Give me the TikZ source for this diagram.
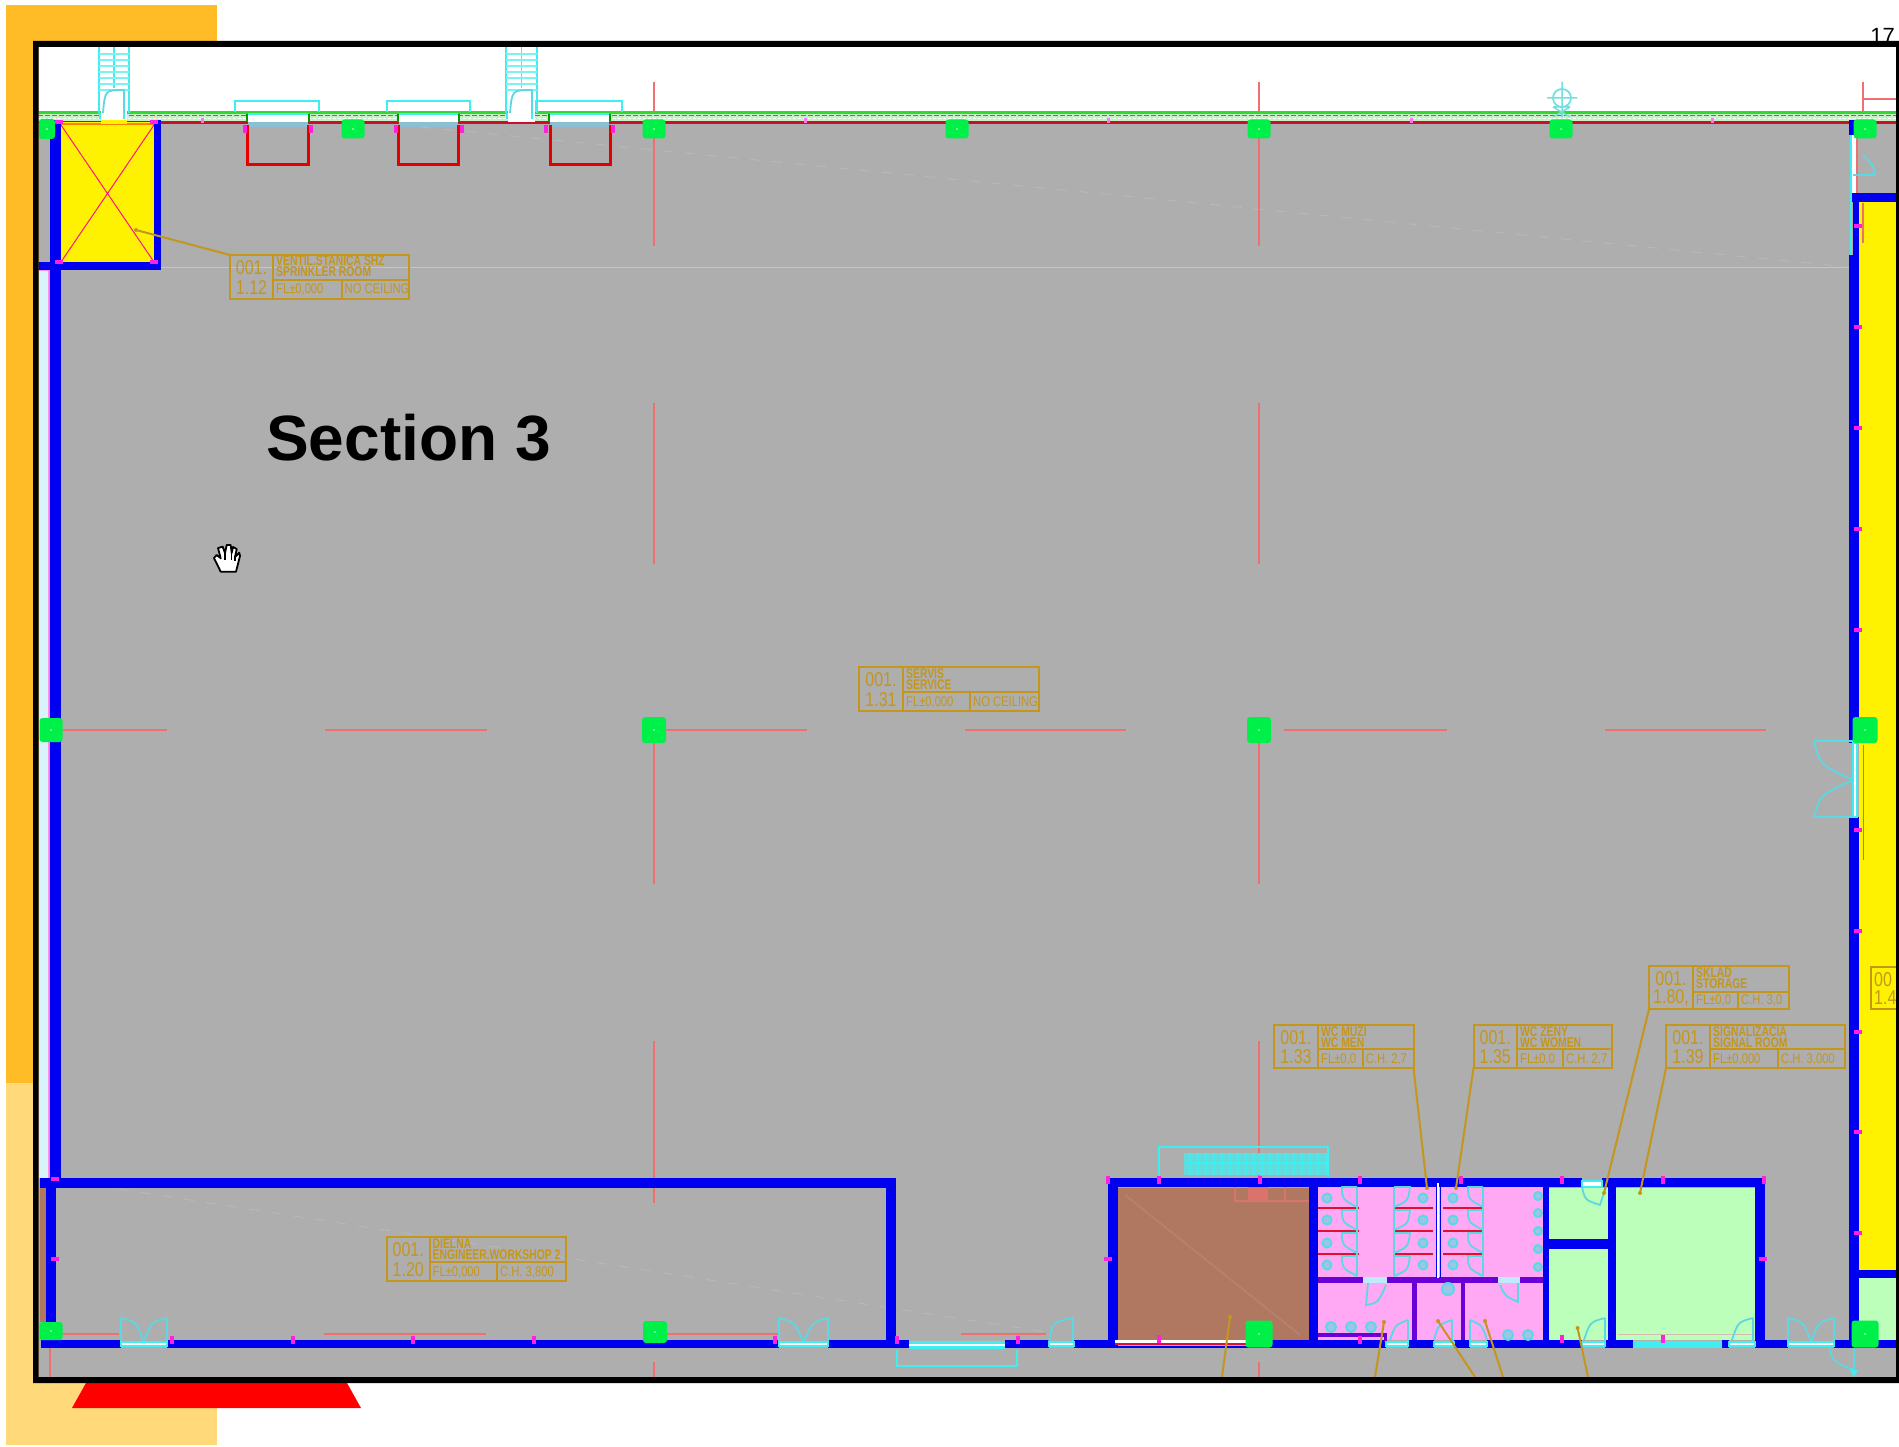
\documentclass[tikz,border=0pt]{standalone}
\usepackage{graphicx}
\usepackage{fontspec}
\setmainfont{Liberation Sans}
\definecolor{gold}{HTML}{C4961C}
\definecolor{wallblue}{HTML}{0000F0}
\definecolor{floor}{HTML}{AEAEAE}
\definecolor{orangeA}{HTML}{FFBC27}
\definecolor{orangeB}{HTML}{FFD97A}
\definecolor{colgreen}{HTML}{00F04A}
\definecolor{roompink}{HTML}{FFA8F4}
\definecolor{roomgreen}{HTML}{BBFFBB}
\definecolor{roombrown}{HTML}{B07860}
\definecolor{cy}{HTML}{40EEF0}
\definecolor{doorcy}{HTML}{5CD8E4}
\definecolor{axis}{HTML}{F07070}
\definecolor{mag}{HTML}{FF20E0}
\definecolor{purplewall}{HTML}{6A00D8}
\definecolor{faint}{HTML}{B8B8B8}
\definecolor{stallred}{HTML}{E01030}
\newcommand{\sq}[1]{\scalebox{.8}[1]{#1}}
\newcommand{\sqb}[1]{\scalebox{.74}[1]{\bfseries #1}}
\newcommand{\rlbox}[7]{\def\xa{#1}\def\xb{#2}\def\xc{#3}\def\xd{#4}\def\ya{#5}\def\yb{#6}\def\yc{#7}%
  \draw[labelline] (\xa,\ya) rectangle (\xd,\yc) (\xb,\ya) -- (\xb,\yc) (\xb,\yb) -- (\xd,\yb) (\xc,\yb) -- (\xc,\yc);}
\newcommand{\rltext}[7]{%
  \node[labelnum] (#1a) at ({(\xa+\xb)/2},{\ya+(\yc-\ya)*0.29}) {\scalebox{.8}[1]{#2}};
  \node[labelnum] (#1b) at ({(\xa+\xb)/2},{\ya+(\yc-\ya)*0.73}) {\scalebox{.8}[1]{#3}};
  \node[labeltext] (#1c) at ({\xb+3},{\ya+11}) {\sqb{#4}};
  \node[labeltext] (#1d) at ({\xb+3},{\ya+22}) {\sqb{#5}};
  \node[labeltext] (#1e) at ({\xb+3},{\yc-5}) {\sq{#6}};
  \node[labeltext] (#1f) at ({\xc+3},{\yc-5}) {\sq{#7}};}
\tikzset{
  labelline/.style={draw=gold,line width=2pt},
  labelnum/.style={text=gold,inner sep=0pt,font=\fontsize{20}{20}\selectfont},
  labeltext/.style={text=gold,inner sep=0pt,anchor=base west,font=\fontsize{14}{14}\selectfont},
  leader/.style={draw=gold,line width=2pt},
  leaderdot/.style={fill=gold},
  wall/.style={fill=wallblue},
  colnode/.style={fill=colgreen,rounded corners=3pt,inner sep=0pt},
  axisline/.style={draw=axis,line width=1.2pt},
  cyline/.style={draw=cy,line width=2pt},
  doorline/.style={draw=doorcy,line width=1.8pt},
  pane/.style={fill=white,draw=cy,line width=1.6pt},
  faintline/.style={draw=faint,line width=1pt,dash pattern=on 10pt off 12pt},
  stalldiv/.style={draw=stallred,line width=2.5pt},
  fixture/.style={draw=doorcy,line width=2pt,fill=roompink!40!doorcy},
}
\begin{document}
\begin{tikzpicture}[x=1pt,y=-1pt]
\useasboundingbox (0,0) rectangle (1899,1447);
\fill[white] (0,0) rectangle (1899,1447);
% side panel
\fill[orangeA] (6,5) rectangle (217,1083);
\fill[orangeB] (6,1083) rectangle (217,1445);
% red trapezoid
\fill[red] (86,1383) -- (347,1383) -- (361,1408) -- (72,1408) -- cycle;
% page number
\node[inner sep=0pt,anchor=base east,font=\fontsize{22}{22}\selectfont] (pagenum) at (1895,44) {17};

\begin{scope}
\clip (38.5,47) rectangle (1896,1377);
\fill[floor] (38,47) rectangle (1896,1377);
\fill[white] (38,47) rectangle (1896,113);
% faint guide lines
\draw[draw=faint!80!white,line width=1pt] (161,267.5) -- (1849,267.5);
\draw[faintline] (400,125) -- (1849,267);
\draw[faintline] (119,1189) -- (1053,1333);
% grid axes
\foreach \xx in {654,1259}{
  \foreach \ya/\yb in {82/112,121/246,403/564,723/884,1041/1203,1362/1377}
    \draw[axisline] (\xx,\ya) -- (\xx,\yb);
}
\draw[axisline] (1863,82) -- (1863,112);
\draw[axisline] (1863,99) -- (1896,99);
\foreach \xa/\xb in {63/167,325/487,644/807,965/1126,1284/1447,1605/1766}
  \draw[axisline] (\xa,730) -- (\xb,730);
\foreach \xa/\xb in {63/119,324/486,667/779,961/1046}
  \draw[axisline] (\xa,1334) -- (\xb,1334);
\draw[axisline] (50,1348) -- (50,1377);
% north wall strip
\fill[black!8!roomgreen!70!white] (38,113) rectangle (1896,122);
\draw[draw=green!80!black!80!white,line width=2.2pt] (38,112.5) -- (1896,112.5);
\draw[draw=red!50!gold,line width=0.8pt,dash pattern=on 5pt off 2pt] (38,115.5) -- (1896,115.5);
\draw[draw=white,line width=0.8pt,dash pattern=on 3pt off 2pt] (38,118.5) -- (1896,118.5);
\draw[draw=stallred!90!black,line width=2.6pt] (38,122.5) -- (1896,122.5);
% right bay
\fill[yellow] (1859,202) rectangle (1896,1270);
\fill[roomgreen] (1859,1278) rectangle (1896,1340);
% sprinkler room
\fill[yellow] (61,122) rectangle (154,262);
\draw[draw=orange,line width=2pt] (61,124) -- (154,124);
\draw[draw=mag!60!red,line width=1pt] (61,125) -- (154,262) (154,125) -- (61,262);
% rooms of the south block
\fill[roombrown] (1118,1188) rectangle (1309,1340);
\fill[axis!65!roombrown] (1248,1186) rectangle (1268,1200);
\draw[draw=axis!65!roombrown,line width=1.5pt] (1235,1186) -- (1235,1201) -- (1312,1201) (1285,1186) rectangle (1312,1201);
\draw[draw=roombrown!88!white,line width=1pt] (1125,1195) -- (1300,1335);
\fill[roompink] (1318,1186) rectangle (1543,1340);
\fill[roomgreen] (1549,1188) rectangle (1608,1340);
\fill[roomgreen] (1616,1188) rectangle (1755,1340);
\draw[draw=roombrown!50!white,line width=1pt] (1618,1334) -- (1755,1334);
\fill[roombrown] (40,1188) rectangle (47,1322);
% light window strip on the west wall
\fill[cyan!15!white] (39,271) rectangle (49,1178);
\draw[draw=mag!50!white,line width=1pt] (39,271) -- (49,271) (48.5,271) -- (48.5,1178) (39,1178) -- (49,1178);
% walls
\fill[wall] (50,120) rectangle (61,1178);
\fill[wall] (46,1178) rectangle (56,1325);
\fill[wall] (154,120) rectangle (161,270);
\fill[wall] (38,262) rectangle (161,270);
\fill[wall] (40,1178) rectangle (896,1188);
\fill[wall] (886,1178) rectangle (896,1348);
\fill[wall] (41,1340) rectangle (121,1348);
\fill[wall] (167,1340) rectangle (779,1348);
\fill[wall] (828,1340) rectangle (909,1348);
\fill[wall] (1005,1340) rectangle (1049,1348);
\fill[wall] (1074,1340) rectangle (1115,1348);
\fill[wall] (1250,1340) rectangle (1386,1348);
\fill[wall] (1408,1340) rectangle (1434,1348);
\fill[wall] (1454,1340) rectangle (1470,1348);
\fill[wall] (1487,1340) rectangle (1582,1348);
\fill[wall] (1605,1340) rectangle (1633,1348);
\fill[wall] (1722,1340) rectangle (1729,1348);
\fill[wall] (1755,1340) rectangle (1788,1348);
\fill[wall] (1834,1340) rectangle (1896,1348);
\fill[wall] (1108,1178) rectangle (1582,1187);
\fill[wall] (1602,1178) rectangle (1765,1187);
\fill[wall] (1108,1178) rectangle (1118,1348);
\fill[wall] (1309,1187) rectangle (1318,1348);
\fill[wall] (1543,1187) rectangle (1549,1348);
\fill[wall] (1549,1239) rectangle (1608,1249);
\fill[wall] (1608,1187) rectangle (1616,1348);
\fill[wall] (1755,1178) rectangle (1765,1348);
\fill[wall] (1849,120) rectangle (1857,135);
\fill[wall] (1852,193) rectangle (1896,202);
\fill[wall] (1853,193) rectangle (1859,255);
\fill[wall] (1849,255) rectangle (1859,743);
\fill[wall] (1849,817) rectangle (1859,1348);
\fill[wall] (1849,1270) rectangle (1896,1278);
\fill[white] (1851,135) rectangle (1856,193);
\draw[draw=cy,line width=2.5pt] (1851,135) -- (1851,255);
\draw[axisline] (1857,120) -- (1857,193);
\draw[axisline] (1863,203) -- (1863,243);
\draw[draw=orange!80!red,line width=1pt] (1863,745) -- (1863,860);
\draw[doorline] (1853,175) -- (1875,175) .. controls (1873,165) .. (1863,155);
% toilet partitions and fixtures
\fill[purplewall] (1318,1277) rectangle (1363,1283);
\fill[purplewall] (1387,1277) rectangle (1498,1283);
\fill[purplewall] (1520,1277) rectangle (1543,1283);
\fill[purplewall] (1412,1283) rectangle (1417,1340);
\fill[purplewall] (1461,1283) rectangle (1465,1340);
\fill[purplewall] (1318,1333) rectangle (1387,1337);
\fill[purplewall] (1384,1333) rectangle (1387,1342);
\foreach \xa/\xb in {1318/1359,1393/1433,1443/1484}{
  \foreach \yy in {1208,1231,1254}
    \draw[stalldiv] (\xa,\yy) -- (\xb,\yy);
}
\draw[draw=white,line width=1.5pt] (1438,1183) -- (1438,1278);
\draw[draw=wallblue,line width=1pt] (1436,1183) -- (1436,1278) (1440,1183) -- (1440,1278);
\foreach \xx in {1357,1394,1483}
  \draw[doorline] (\xx,1187) -- (\xx,1276);
\foreach \yy in {1187,1210,1233,1256}{
  \draw[doorline] (1357,\yy) -- (1342,\yy) .. controls (1342,\yy+12) .. (1357,\yy+20);
  \draw[doorline] (1394,\yy) -- (1410,\yy) .. controls (1408,\yy+14) .. (1394,\yy+20);
  \draw[doorline] (1483,\yy) -- (1468,\yy) .. controls (1468,\yy+12) .. (1483,\yy+20);
}
\foreach \yy in {1198,1220,1243,1265}{
  \draw[fixture] (1327,\yy) circle[radius=4.5];
  \draw[fixture] (1423,\yy) circle[radius=4.5];
  \draw[fixture] (1453,\yy) circle[radius=4.5];
}
\foreach \yy in {1196,1213,1231,1249,1267}
  \draw[fixture] (1538,\yy) circle[radius=4];
\draw[fixture] (1448,1289) circle[radius=6];
\foreach \xx in {1331,1351,1371}
  \draw[fixture] (\xx,1327) circle[radius=5];
\foreach \xx in {1508,1528}
  \draw[fixture] (\xx,1335) circle[radius=5];
% toilet doors
\fill[cyan!25!white] (1363,1277) rectangle (1387,1283);
\fill[cyan!25!white] (1498,1277) rectangle (1520,1283);
\draw[doorline] (1368,1283) -- (1366,1305) .. controls (1378,1303) .. (1386,1285);
\draw[doorline] (1518,1283) -- (1518,1302) .. controls (1505,1296) .. (1500,1285);
\draw[doorline] (1408,1320) -- (1408,1341) (1408,1320) .. controls (1395,1325) .. (1390,1340);
\draw[doorline] (1452,1320) -- (1452,1341) (1452,1320) .. controls (1438,1325) .. (1434,1340);
\draw[doorline] (1470,1320) -- (1470,1341) (1470,1320) .. controls (1482,1325) .. (1487,1340);
\foreach \xa/\xb in {1386/1408,1434/1454,1470/1487,1582/1605}
  \draw[pane] (\xa,1342) rectangle (\xb,1346);
\draw[doorline] (1605,1318) -- (1605,1341) (1605,1318) .. controls (1590,1322) .. (1584,1340);
\draw[pane] (1582,1181) rectangle (1602,1187);
\draw[doorline] (1582,1187) .. controls (1585,1200) .. (1600,1205) -- (1606,1187);
% red line and pane in the south wall
\fill[white] (1115,1340) rectangle (1250,1345);
\draw[draw=stallred,line width=1.5pt] (1115,1344) -- (1250,1344);
\fill[wall] (1115,1346) rectangle (1250,1348);
\fill[cy] (1633,1341) rectangle (1722,1348);
\fill[wall] (1722,1340) rectangle (1729,1348);
\draw[doorline] (1753,1318) -- (1753,1341) (1753,1318) .. controls (1738,1322) .. (1732,1340);
\draw[pane] (1729,1342) rectangle (1755,1346);
% south doors
\foreach \xa/\xc/\xb in {121/143.5/167,779/803.5/828,1788/1811/1834}{
  \draw[doorline] (\xa,1343) -- (\xa,1318) .. controls (\xa+16,1322) .. (\xc,1343);
  \draw[doorline] (\xb,1343) -- (\xb,1318) .. controls (\xb-16,1322) .. (\xc,1343);
  \draw[pane] (\xa,1342) rectangle (\xb,1346);
}
\draw[doorline] (1073,1343) -- (1073,1318) .. controls (1052,1322) .. (1049,1343);
\draw[pane] (1049,1342) rectangle (1074,1346);
% south window
\fill[cy] (909,1341) rectangle (1005,1349);
\draw[draw=white,line width=1.5pt] (909,1345) -- (1005,1345);
\draw[cyline] (897,1350) -- (897,1366) -- (1017,1366) -- (1017,1350);
\draw[doorline] (1829,1347) .. controls (1833,1362) .. (1854,1370) -- (1854,1348);
\fill[cy] (1850,1370) -- (1858,1370) -- (1854,1377) -- cycle;
% east double door
\fill[white] (1853,743) rectangle (1857,817);
\draw[draw=cy,line width=1.5pt] (1853,743) rectangle (1857,817);
\draw[doorline] (1853,741) -- (1814,741) .. controls (1820,765) .. (1853,780);
\draw[doorline] (1853,817) -- (1814,817) .. controls (1820,795) .. (1853,780);
% interior stair
\draw[cyline] (1159,1177) -- (1159,1147) -- (1328,1147) -- (1328,1177);
\fill[cy!70!floor] (1184,1153) rectangle (1327,1175);
\foreach \xx in {1190,1198,...,1326}
  \draw[draw=cy,line width=2.4pt] (\xx,1153) -- (\xx,1175);
\draw[cyline] (1186,1163) -- (1325,1163);
% north stairs
\foreach \xa/\xb in {99/129,506/537}{
  \draw[cyline] (\xa,47) -- (\xa,113) (\xb,47) -- (\xb,113);
  \draw[draw=cy,line width=1.2pt] ({(\xa+\xb)/2},47) -- ({(\xa+\xb)/2},88);
  \foreach \yy in {54,60,66,72,78,84,90}
    \draw[draw=cy!70!white,line width=1.4pt] (\xa,\yy) -- (\xb,\yy);
  \fill[white] (\xa+2,91) rectangle (\xb-2,122);
  \draw[doorline] (\xb-5,90) -- (\xb-5,113) (\xb-5,90) .. controls (\xa+6,90) .. (\xa+4,113);
  \draw[draw=cy,line width=1.5pt] (\xa+1,113) -- (\xa+1,119) (\xb-5,113) -- (\xb-5,119);
}
\fill[yellow] (101,120) rectangle (127,124);
% north windows with recesses
\foreach \oa/\ob/\pa/\pb/\ua/\ub in {235/319/248/308/247/308, 387/470/399/458/398/458, 536/622/550/609/550/610}{
  \draw[cyline] (\oa,112) -- (\oa,101.5) -- (\ob,101.5) -- (\ob,112);
  \fill[white] (\pa,114) rectangle (\pb,122);
  \fill[cyan!50!gray!70!white] (\pa,122) rectangle (\pb,127);
  \draw[draw=cy,line width=1.5pt] (\pa,114) -- (\pb,114);
  \draw[draw=green!60!black,line width=1.5pt] (\pa-1,114) -- (\pa-1,122) (\pb+1,114) -- (\pb+1,122);
  \draw[draw=red!90!black,line width=3pt] (\ua,125) -- (\ua,164.5) -- (\ub,164.5) -- (\ub,125);
}
% columns
\foreach \cn/\cx/\cy/\cw/\ch in {ca/47/129/16/20, cb/353/129/23/19, cc/654/129/23/19, cd/957/129/23/19, ce/1259/129/23/19, cf/1561/129/23/19, cg/1865/129/23/19,
  ch/51/730/23/24, ci/654/730/24/26, cj/1259/730/24/26, ck/1865/730/25/26,
  cl/51/1331/23/18, cm/655/1332/24/22, cn/1259/1334/27/27, co/1865/1334/27/27}{
  \node[colnode,minimum width=\cw,minimum height=\ch] (\cn) at (\cx,\cy) {};
  \fill[green!40!white] (\cx,\cy) circle[radius=1.2];
}
% survey symbol
\draw[draw=teal!45!cyan!55!white,line width=1.8pt] (1562,98) circle[radius=9];
\draw[draw=teal!45!cyan!55!white,line width=1.5pt] (1547,98) -- (1577,98) (1562,82) -- (1562,117) (1553,107) -- (1570,107) (1553,107) -- (1570,117) (1570,107) -- (1553,117);
% magenta markers
\foreach \xx/\yy in {1108/1180,1159/1180,1260/1180,1360/1180,1461/1180,1562/1180,1663/1180,1764/1180,1159/1339,1360/1340,1562/1339,1663/1339,172/1340,293/1340,413/1340,534/1340,775/1340,897/1340,1018/1340,245/129,311/129,396/129,462/129,546/129,613/129}
  \fill[mag] (\xx-2,\yy-4) rectangle (\xx+2,\yy+4);
\foreach \xx/\yy in {202/121,805/121,1108/121,1411/121,1712/121}
  \fill[mag!60!white] (\xx-1.5,\yy-2.5) rectangle (\xx+1.5,\yy+2.5);
\foreach \xx/\yy in {1108/1259,1763/1259,55/1259,55/1179,1858/226,1858/327,1858/428,1858/529,1858/630,1858/830,1858/931,1858/1032,1858/1132,1858/1233,59/122,154/122,59/262,154/262}
  \fill[mag] (\xx-4,\yy-2) rectangle (\xx+4,\yy+2);
% leaders
\draw[leader] (136,230) -- (230,255);
\fill[leaderdot] (136,230) circle[radius=2];
\draw[leader] (1413.5,1068) -- (1427,1188);
\draw[leader] (1473.5,1068) -- (1456,1188);
\draw[leader] (1649,1009) -- (1604,1193);
\draw[leader] (1666,1068) -- (1640,1193);
\foreach \xx/\yy in {1427/1188,1456/1188,1604/1193,1640/1193,1230/1317,1384/1322,1438/1321,1485/1321,1577.6/1328}
  \fill[leaderdot] (\xx,\yy) circle[radius=2];
\draw[leader] (1230,1317) -- (1222,1377);
\draw[leader] (1384,1322) -- (1375,1377);
\draw[leader] (1438,1321) -- (1475,1377);
\draw[leader] (1485,1321) -- (1503,1377);
\draw[leader] (1577.6,1328) -- (1588,1377);
% room labels
\rlbox{230}{273}{341.5}{409}{255}{280}{299}
\rltext{lab112}{001.}{1.12}{VENTIL.STANICA SHZ}{SPRINKLER ROOM}{FL±0,000}{NO CEILING}
\rlbox{859}{903}{970}{1039}{667}{692}{711}
\rltext{lab131}{001.}{1.31}{SERVIS}{SERVICE}{FL±0,000}{NO CEILING}
\rlbox{387}{429.5}{497}{566}{1237}{1262}{1281}
\rltext{lab120}{001.}{1.20}{DIELNA}{ENGINEER.WORKSHOP 2}{FL±0,000}{C.H. 3,800}
\rlbox{1274}{1318}{1362.6}{1413.5}{1025}{1049}{1068}
\rltext{lab133}{001.}{1.33}{WC MUZI}{WC MEN}{FL±0,0}{C.H. 2,7}
\rlbox{1473.5}{1517}{1563}{1612}{1025}{1049}{1068}
\rltext{lab135}{001.}{1.35}{WC ZENY}{WC WOMEN}{FL±0,0}{C.H. 2,7}
\rlbox{1649}{1693}{1738}{1789}{966}{992}{1009}
\rltext{lab180}{001.}{1.80,}{SKLAD}{STORAGE}{FL±0,0}{C.H. 3,0}
\rlbox{1666}{1710}{1778}{1845}{1025}{1049}{1068}
\rltext{lab139}{001.}{1.39}{SIGNALIZACIA}{SIGNAL ROOM}{FL±0,000}{C.H. 3,000}
\draw[labelline] (1871,967) rectangle (1905,1009);
\node[labelnum,anchor=west] (lab14a) at (1874,980) {\scalebox{.8}[1]{00}};
\node[labelnum,anchor=west] (lab14b) at (1874,998) {\scalebox{.8}[1]{1.4}};
\end{scope}

% title
\node[inner sep=0pt,anchor=base west,font=\fontsize{64}{64}\selectfont\bfseries] (title) at (266,460) {Section 3};
% hand cursor
\draw[fill=white,draw=black,line width=1.8pt,line join=round] (220.7,571.7) -- (214,558) -- (216.7,555) -- (220.7,558.3) -- (218,548) -- (222.7,546.7) -- (225,553) -- (226.7,545) -- (230.7,545) -- (231.7,553) -- (233,547) -- (236.7,549) -- (235,557) -- (239.3,552.7) -- (240,556) -- (236,571.7) -- cycle;
\draw[draw=black,line width=1.2pt] (225,553) -- (225,560) (231.7,553) -- (231.7,560) (235,557) -- (235,561);
% frame
\fill[black,even odd rule] (33,41) rectangle (1899,1383) (38.5,47) rectangle (1896,1377);
\end{tikzpicture}
\end{document}
